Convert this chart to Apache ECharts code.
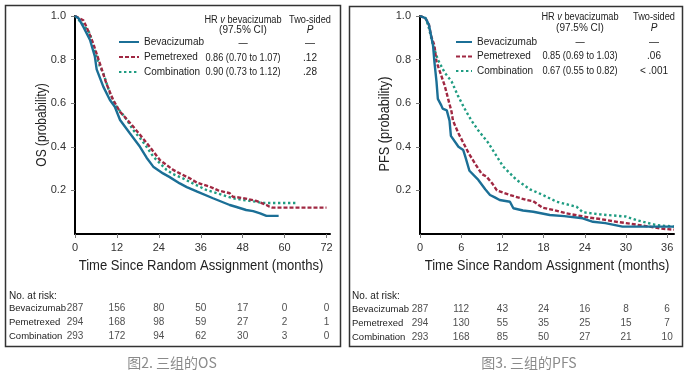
<!DOCTYPE html>
<html><head><meta charset="utf-8">
<script src="https://cdn.jsdelivr.net/npm/echarts@6/dist/echarts.min.js"></script>
<style>html,body{margin:0;padding:0;background:#fff}#c{width:687px;height:381px}</style>
</head><body><div id="c"></div>
<script>
// ---------- data ----------
const groups = ['Bevacizumab', 'Pemetrexed', 'Combination'];
const osTicks = [0, 12, 24, 36, 48, 60, 72];
const pfsTicks = [0, 6, 12, 18, 24, 30, 36];
const yTicks = [0.2, 0.4, 0.6, 0.8, 1.0];

// OS curves [months, probability]
const osBev = [[0,1],[1,0.99],[2.4,0.95],[4.3,0.89],[5.7,0.813],[6.2,0.755],[8.1,0.676],[10,0.615],[11.4,0.584],[12.9,0.523],[15.7,0.462],[18.6,0.40],[20.5,0.35],[22.4,0.309],[25.2,0.278],[27,0.262],[30,0.232],[32,0.215],[35,0.194],[39.5,0.164],[44.3,0.133],[46,0.125],[49,0.11],[51,0.105],[53,0.095],[54.8,0.083],[58.3,0.083]];
const osPem = [[0,1],[2.4,0.98],[3.3,0.95],[5.2,0.875],[7.1,0.783],[9,0.69],[10.9,0.615],[12.9,0.56],[13.8,0.545],[16.7,0.492],[18.6,0.455],[21.4,0.40],[24.3,0.339],[28.1,0.294],[30,0.278],[32.9,0.255],[35,0.235],[38.6,0.217],[41,0.2],[44.3,0.187],[45.2,0.171],[48,0.165],[51.9,0.152],[53,0.145],[54.8,0.133],[55.7,0.125],[56.5,0.121],[72,0.121]];
const osCom = [[0,1],[2.4,0.96],[4.3,0.92],[5.2,0.86],[7.1,0.77],[8.1,0.737],[10,0.645],[10.9,0.615],[11.9,0.584],[14.8,0.525],[16.5,0.48],[18.6,0.44],[20.5,0.40],[22.4,0.355],[24.3,0.325],[26.2,0.294],[28,0.275],[30.9,0.255],[34,0.23],[37.6,0.202],[41,0.185],[45.2,0.164],[48.1,0.156],[51.9,0.148],[53.5,0.142],[63.4,0.142]];

// PFS curves [months, probability]
const pfsBev = [[0,1],[0.8,0.99],[1.3,0.96],[1.9,0.865],[2.1,0.79],[2.4,0.70],[2.6,0.62],[3.1,0.59],[3.3,0.575],[3.9,0.567],[4.3,0.52],[4.5,0.45],[5.6,0.40],[6.3,0.385],[6.6,0.355],[7.2,0.29],[8.5,0.248],[9.5,0.205],[10.2,0.179],[10.9,0.168],[11.6,0.156],[13.1,0.148],[13.6,0.118],[15,0.108],[16.5,0.102],[18.9,0.087],[21,0.082],[23.7,0.072],[25.2,0.056],[27,0.05],[29.5,0.034],[37,0.034]];
const pfsPem = [[0,1],[0.8,0.99],[1.3,0.96],[1.6,0.91],[2.1,0.865],[2.4,0.79],[2.9,0.745],[3.6,0.68],[4.1,0.62],[4.6,0.56],[4.8,0.52],[5.6,0.462],[7.1,0.37],[8.0,0.324],[9.0,0.275],[9.7,0.263],[10.5,0.233],[11.2,0.2],[13.1,0.179],[15.5,0.156],[16.5,0.15],[17.9,0.12],[19.5,0.11],[21.3,0.095],[24.7,0.075],[26,0.07],[28.6,0.056],[30,0.05],[33.4,0.034],[35,0.025],[37,0.02]];
const pfsCom = [[0,1],[0.8,0.99],[1.2,0.957],[1.9,0.865],[2.6,0.80],[3.6,0.74],[4.6,0.70],[5.5,0.636],[6.5,0.575],[7.5,0.52],[8.5,0.475],[9.9,0.42],[10.5,0.39],[12.1,0.31],[14.0,0.25],[16,0.205],[17.9,0.179],[19.9,0.148],[22.8,0.125],[23.7,0.1],[26.2,0.09],[30,0.08],[31.5,0.064],[34.4,0.041],[37,0.034]];

// numbers at risk
const osRiskBev = [287,156,80,50,17,0,0];
const osRiskPem = [294,168,98,59,27,2,1];
const osRiskCom = [293,172,94,62,30,3,0];
const pfsRiskBev = [287,112,43,24,16,8,6];
const pfsRiskPem = [294,130,55,35,25,15,7];
const pfsRiskCom = [293,168,85,50,27,21,10];

// hazard ratio tables
const osHR = ['\u2014', '0.86 (0.70 to 1.07)', '0.90 (0.73 to 1.12)'];
const osP = ['\u2014', '.12', '.28'];
const pfsHR = ['\u2014', '0.85 (0.69 to 1.03)', '0.67 (0.55 to 0.82)'];
const pfsP = ['\u2014', '.06', '< .001'];

const xTitle = 'Time Since Random Assignment (months)';
const yTitles = ['OS (probability)', 'PFS (probability)'];
const captions = ['图2. 三组的OS', '图3. 三组的PFS'];

// ---------- styles ----------
const colors = ['#1b6f96', '#a02842', '#1f9c82'];
const dashes = ['solid', [4, 2], [2.4, 2.6]];
const FONT = '"Liberation Sans", Arial, sans-serif';

function valX(gi, max, ticks) {
  return {
    type: 'value', gridIndex: gi, min: 0, max: max,
    axisLine: { show: true, onZero: false, lineStyle: { color: '#000', width: 2 } },
    axisTick: { show: true, customValues: ticks, length: 4, lineStyle: { color: '#777' } },
    axisLabel: { customValues: ticks, fontSize: 11, color: '#333', margin: 8, fontFamily: FONT },
    splitLine: { show: false }
  };
}
function valY(gi) {
  return {
    type: 'value', gridIndex: gi, min: 0, max: 1,
    axisLine: { show: true, onZero: false, lineStyle: { color: '#000', width: 2 } },
    axisTick: { show: true, customValues: yTicks, length: 4, lineStyle: { color: '#777' } },
    axisLabel: { customValues: yTicks, fontSize: 11, color: '#333', margin: 9, fontFamily: FONT,
      formatter: v => v.toFixed(1) },
    splitLine: { show: false }
  };
}
function riskX(gi, max) {
  return { type: 'value', gridIndex: gi, min: 0, max: max, show: false };
}
function riskY(gi, margin) {
  return {
    type: 'category', gridIndex: gi, data: groups, inverse: true,
    axisLine: { show: false }, axisTick: { show: false },
    axisLabel: { align: 'left', margin: margin, fontSize: 9.5, color: '#222', fontFamily: FONT }
  };
}

const series = [];
const osCurves = [osBev, osPem, osCom];
const pfsCurves = [pfsBev, pfsPem, pfsCom];
groups.forEach((g, i) => {
  series.push({ name: g, type: 'line', xAxisIndex: 0, yAxisIndex: 0, data: osCurves[i],
    symbol: 'none', lineStyle: { color: colors[i], width: 2.4, type: dashes[i] },
    itemStyle: { color: colors[i] }, z: 5 - i });
});
groups.forEach((g, i) => {
  series.push({ name: g, type: 'line', xAxisIndex: 1, yAxisIndex: 1, data: pfsCurves[i],
    symbol: 'none', lineStyle: { color: colors[i], width: 2.4, type: dashes[i] },
    itemStyle: { color: colors[i] }, z: 5 - i });
});
const osRisk = [osRiskBev, osRiskPem, osRiskCom];
const pfsRisk = [pfsRiskBev, pfsRiskPem, pfsRiskCom];
function riskSeries(name, xi, ticks, rows) {
  const data = [];
  rows.forEach((r, ri) => r.forEach((n, k) => data.push([ticks[k], groups[ri], n])));
  return { name: name, type: 'scatter', xAxisIndex: xi, yAxisIndex: xi, data: data,
    symbolSize: 1, itemStyle: { color: 'rgba(0,0,0,0)' }, silent: true,
    label: { show: true, position: 'inside', formatter: p => String(p.value[2]),
      fontSize: 10, color: '#222', fontFamily: FONT } };
}
series.push(riskSeries('riskOS', 2, osTicks, osRisk));
series.push(riskSeries('riskPFS', 3, pfsTicks, pfsRisk));

// ---------- graphic text ----------
function txt(x, y, text, style, extra) {
  return Object.assign({
    type: 'text', x: x, y: y, silent: true,
    style: Object.assign({ text: text, fontSize: 10, fill: '#222', fontFamily: FONT,
      align: 'center', verticalAlign: 'middle' }, style || {})
  }, extra || {});
}
const graphic = [];
graphic.push({ type: 'rect', shape: { x: 5.5, y: 5.5, width: 335, height: 341 },
  style: { fill: 'none', stroke: '#333', lineWidth: 1.5 }, silent: true });
graphic.push({ type: 'rect', shape: { x: 349.5, y: 6.5, width: 333, height: 340 },
  style: { fill: 'none', stroke: '#333', lineWidth: 1.5 }, silent: true });

function hrTable(cx, px, yh1, yh2, rowsY, hr, pv) {
  graphic.push(txt(cx, yh1, 'HR {i|v} bevacizumab', {
    rich: { i: { fontStyle: 'italic', fontSize: 10, fill: '#222', fontFamily: FONT } } },
    { scaleX: 0.92 }));
  graphic.push(txt(cx, yh2, '(97.5% CI)'));
  graphic.push(txt(px, yh1, 'Two-sided', null, { scaleX: 0.92 }));
  graphic.push(txt(px, yh2, 'P', { fontStyle: 'italic' }));
  rowsY.forEach((y, i) => {
    graphic.push(txt(cx, y, hr[i], null, { scaleX: 0.92 }));
    graphic.push(txt(px, y, pv[i]));
  });
}
hrTable(243, 310, 20, 30, [43, 58, 72], osHR, osP);
hrTable(580, 654, 17, 28, [42, 56, 71], pfsHR, pfsP);

// axis titles
graphic.push(txt(201, 266, xTitle, { fontSize: 15, fill: '#222' }, { scaleX: 0.87 }));
graphic.push(txt(547, 266, xTitle, { fontSize: 15, fill: '#222' }, { scaleX: 0.87 }));
graphic.push(txt(42, 125, yTitles[0], { fontSize: 15, fill: '#222' }, { scaleX: 0.8, rotation: Math.PI / 2 }));
graphic.push(txt(385, 124, yTitles[1], { fontSize: 15, fill: '#222' }, { scaleX: 0.85, rotation: Math.PI / 2 }));

graphic.push(txt(9, 296, 'No. at risk:', { align: 'left' }));
graphic.push(txt(352, 296, 'No. at risk:', { align: 'left' }));
graphic.push(txt(172, 363, captions[0], { fontSize: 14, fill: '#8a8a8a',
  fontFamily: '"Noto Sans CJK SC", sans-serif' }));
graphic.push(txt(529, 363, captions[1], { fontSize: 14, fill: '#8a8a8a',
  fontFamily: '"Noto Sans CJK SC", sans-serif' }));

const option = {
  animation: false,
  backgroundColor: '#fff',
  grid: [
    { left: 75, top: 16, width: 255, height: 218 },
    { left: 420, top: 16, width: 254, height: 218 },
    { left: 75, top: 301, width: 255, height: 42 },
    { left: 420, top: 302, width: 254, height: 42 }
  ],
  xAxis: [ valX(0, 73, osTicks), valX(1, 37, pfsTicks), riskX(2, 73), riskX(3, 37) ],
  yAxis: [ valY(0), valY(1), riskY(2, 66), riskY(3, 68) ],
  legend: [
    { data: groups, left: 118, top: 37, padding: 0, orient: 'vertical', itemWidth: 20, itemHeight: 10,
      itemGap: 5, selectedMode: false, itemStyle: { opacity: 0 },
      textStyle: { fontSize: 10, color: '#222', fontFamily: FONT } },
    { data: groups, left: 455, top: 37, padding: 0, orient: 'vertical', itemWidth: 16, itemHeight: 10,
      itemGap: 4.5, selectedMode: false, itemStyle: { opacity: 0 },
      textStyle: { fontSize: 10, color: '#222', fontFamily: FONT } }
  ],
  graphic: graphic,
  series: series
};
const chart = echarts.init(document.getElementById('c'), null, { renderer: 'canvas' });
chart.setOption(option);
</script>
</body></html>
